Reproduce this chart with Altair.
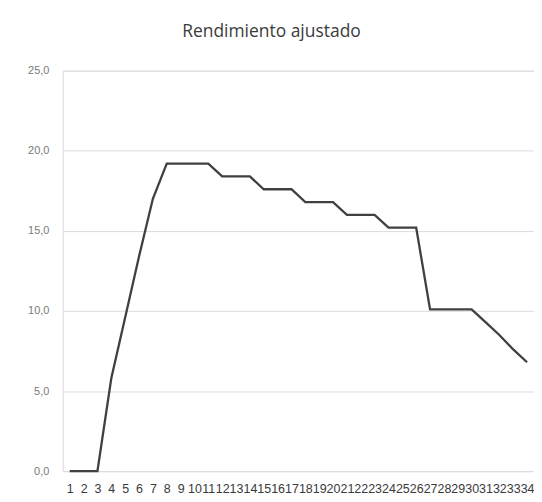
import altair as alt
import pandas as pd

periods = [str(i) for i in range(1, 35)]
values = [0.0, 0.0, 0.0, 5.8, 9.6, 13.4, 17.0, 19.2,
          19.2, 19.2, 19.2, 18.4, 18.4, 18.4, 17.6, 17.6,
          17.6, 16.8, 16.8, 16.8, 16.0, 16.0, 16.0, 15.2,
          15.2, 15.2, 10.1, 10.1, 10.1, 10.1, 9.3, 8.5,
          7.6, 6.8]
y_ticks = [0, 5, 10, 15, 20, 25]

df = pd.DataFrame({"periodo": periods, "valor": values})

chart = alt.Chart(df).mark_line(color="#404040", strokeWidth=2.3).encode(
    x=alt.X("periodo:N", sort=periods, title=None,
            scale=alt.Scale(paddingInner=0, paddingOuter=0.4),
            axis=alt.Axis(labelAngle=0, labelOverlap=False, ticks=False, domain=False,
                          grid=False, labelFont="Liberation Sans", labelFontSize=12.5,
                          labelColor="#3a3a3a", labelPadding=11)),
    y=alt.Y("valor:Q", title=None,
            scale=alt.Scale(domain=[0, 25], nice=False),
            axis=alt.Axis(values=y_ticks, ticks=False, domain=False,
                          labelExpr="replace(format(datum.value, '.1f'), '.', ',')",
                          labelFont="Liberation Sans", labelFontSize=11,
                          labelColor="#7a7a7a", labelPadding=14,
                          gridColor="#dcdcdc", gridWidth=1)),
).properties(
    width=473,
    height=402,
    title=alt.TitleParams("Rendimiento ajustado", font="Open Sans", fontSize=17.5,
                          fontWeight="normal", color="#3c3c3c", anchor="middle",
                          frame="group", dx=-27, offset=24),
    autosize=alt.AutoSizeParams(type="none"),
    padding={"left": 55, "top": 62, "right": 0, "bottom": 28},
).configure_view(strokeWidth=0).configure(background="white")

chart.save("out.html", embed_options={"renderer": "svg", "actions": False})
